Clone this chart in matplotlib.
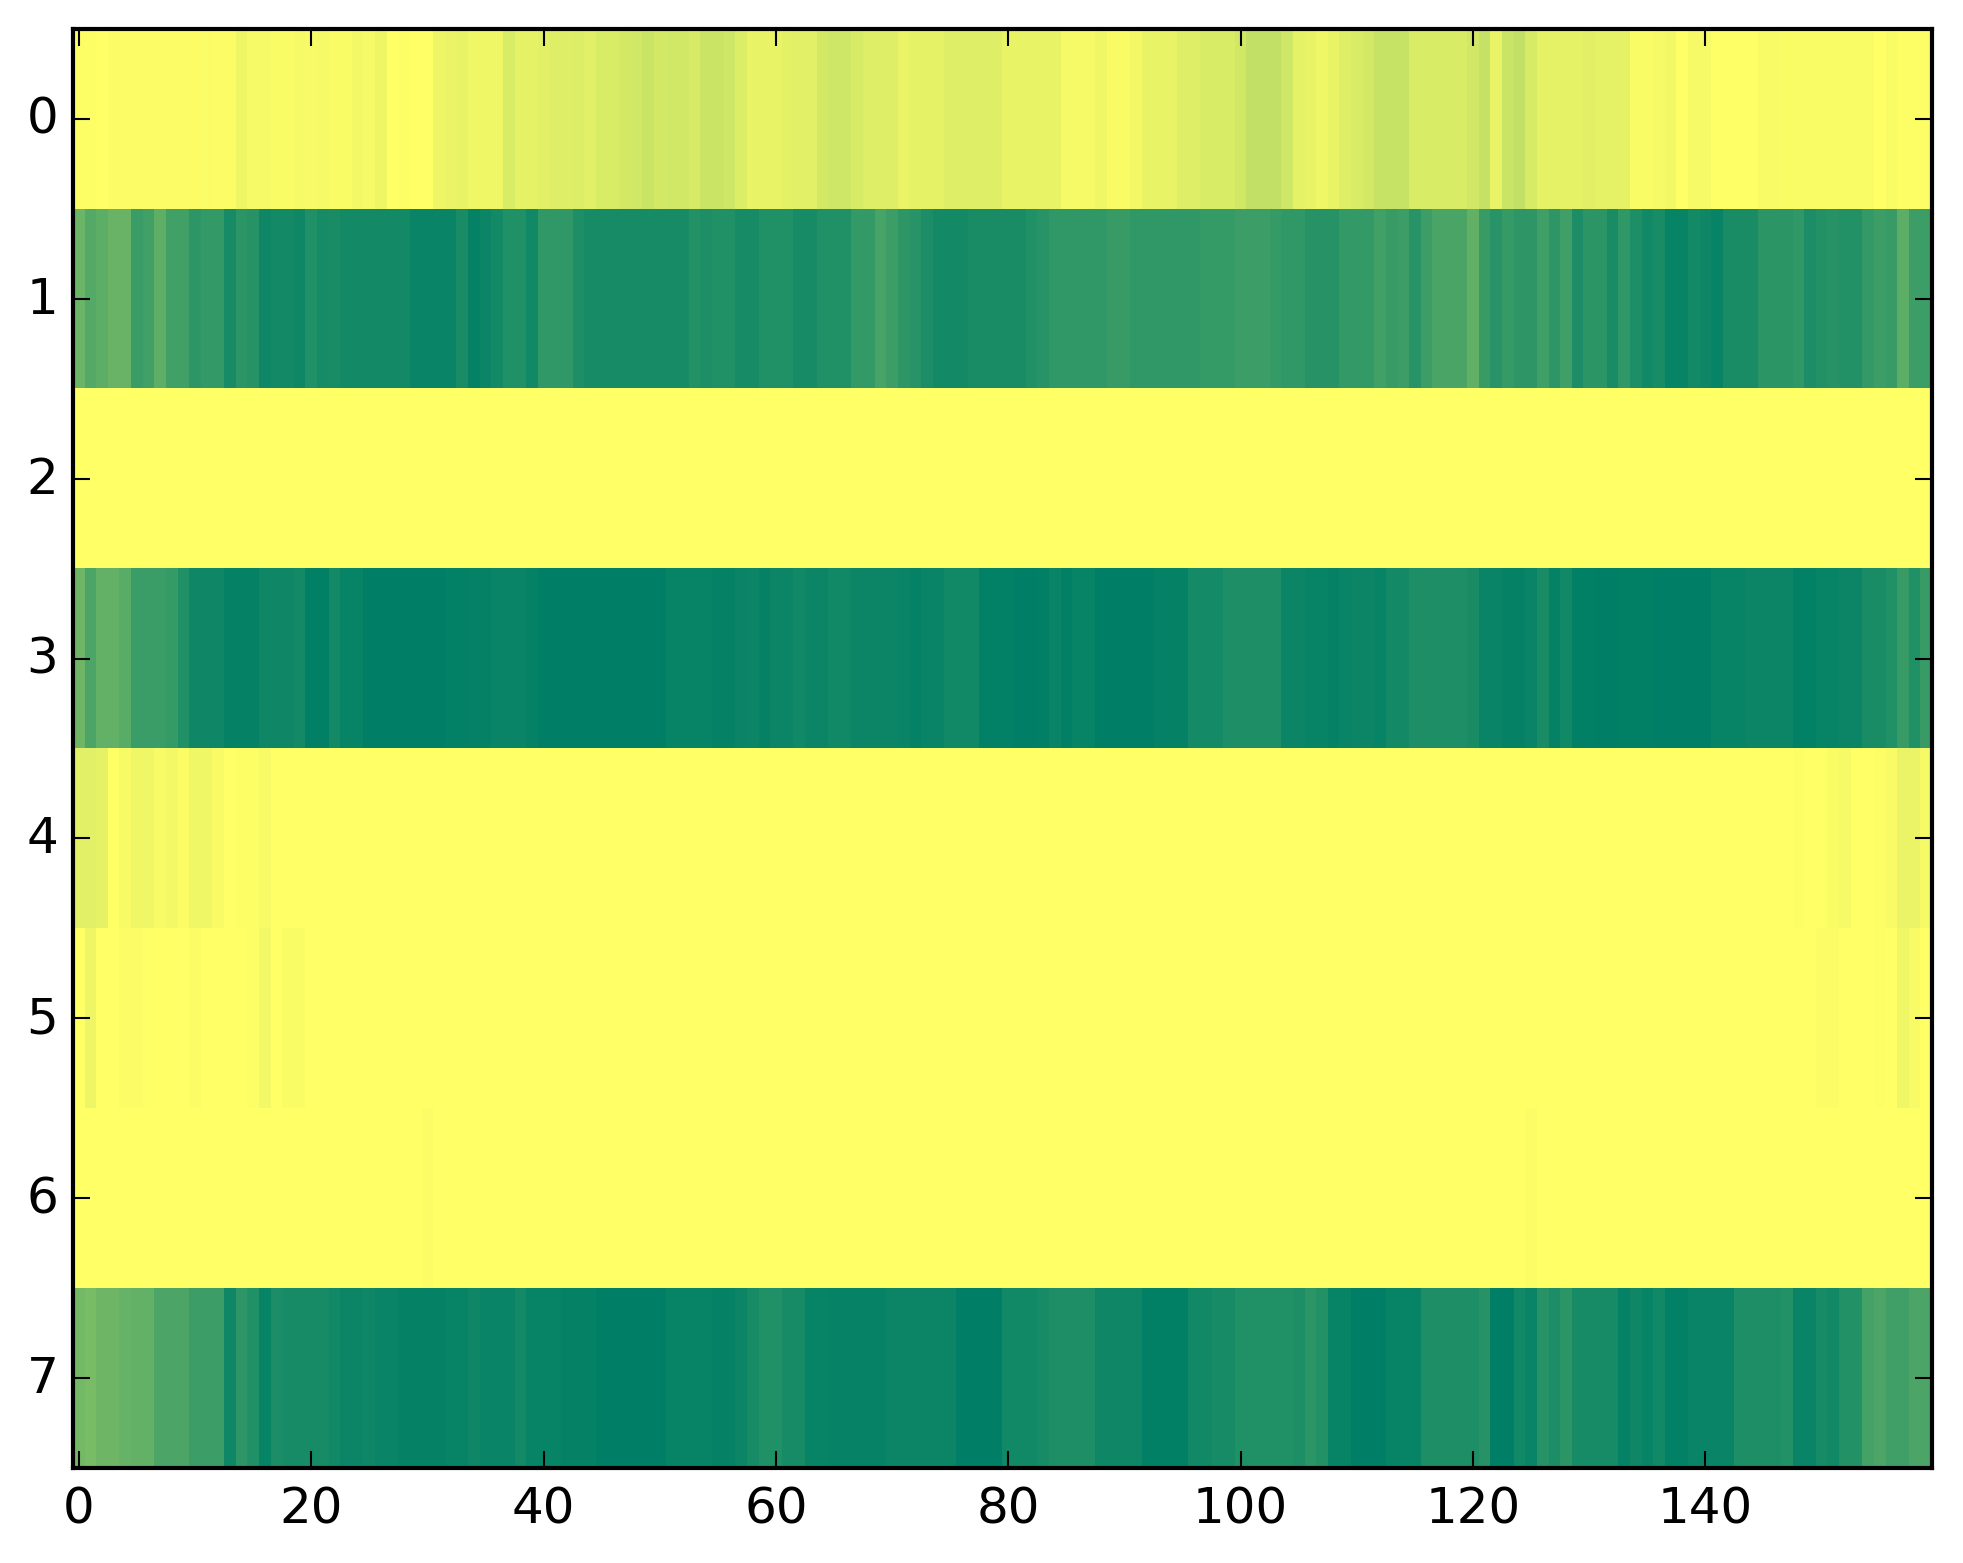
import matplotlib
matplotlib.use("Agg")
import matplotlib.pyplot as plt
import numpy as np

# values, one list per row of the heatmap (160 columns)
row0 = [.99, .99, 1.0, .985, .985, .985, .985, .985, .985, .985,
        .985, .975, .985, .985, .93, .96, .96, .98, .98, .96,
        .97, .96, .98, .98, .95, .96, .93, 1.0, .99, 1.0,
        1.0, .93, .92, .91, .94, .94, .94, .85, .90, .90,
        .88, .87, .87, .86, .88, .85, .85, .83, .82, .79,
        .83, .82, .82, .84, .79, .79, .81, .86, .91, .91,
        .91, .89, .88, .88, .83, .81, .81, .84, .87, .87,
        .87, .92, .90, .90, .90, .87, .87, .87, .87, .87,
        .91, .91, .91, .91, .91, .96, .96, .96, .94, .97,
        .98, .95, .91, .91, .91, .87, .87, .85, .85, .85,
        .82, .76, .76, .76, .81, .90, .91, .94, .91, .87,
        .85, .83, .78, .78, .78, .85, .85, .85, .85, .85,
        .82, .77, .91, .79, .76, .84, .90, .90, .90, .90,
        .88, .90, .90, .90, .98, .98, .96, .95, 1.0, .96,
        .96, .995, .995, .995, .995, .97, .97, .98, .98, .98,
        .98, .98, .98, .98, .98, 1.0, .98, .99, .99, .99]

row1 = [.42, .33, .36, .41, .41, .23, .26, .37, .26, .26,
        .18, .20, .20, .09, .17, .15, .06, .08, .08, .06,
        .13, .09, .10, .08, .08, .08, .08, .08, .08, .04,
        .04, .04, .04, .10, .02, .05, .08, .13, .13, .07,
        .19, .19, .19, .12, .09, .09, .09, .09, .09, .09,
        .09, .09, .09, .14, .12, .13, .13, .09, .09, .13,
        .13, .13, .09, .09, .13, .13, .13, .20, .20, .28,
        .24, .18, .16, .11, .08, .08, .08, .10, .10, .10,
        .10, .10, .13, .16, .19, .19, .19, .19, .19, .22,
        .22, .19, .19, .19, .19, .19, .19, .21, .21, .21,
        .24, .24, .24, .21, .19, .19, .15, .15, .15, .20,
        .20, .20, .26, .22, .24, .16, .24, .29, .29, .29,
        .38, .22, .16, .21, .18, .18, .25, .18, .25, .11,
        .17, .17, .10, .19, .12, .07, .10, .03, .03, .08,
        .06, .03, .10, .10, .10, .17, .17, .17, .19, .11,
        .14, .15, .14, .14, .20, .24, .22, .36, .24, .24]

row2 = [1.0] * 160

row3 = [.43, .30, .39, .39, .35, .23, .23, .23, .21, .13,
        .06, .06, .06, .02, .02, .02, .06, .06, .06, .08,
        .01, .01, .08, .03, .03, .0, .0, .0, .0, .0,
        .0, .0, .015, .015, .02, .02, .04, .04, .04, .02,
        .0, .0, .0, .0, .0, .0, .0, .0, .0, .0,
        .0, .03, .03, .03, .03, .02, .02, .04, .05, .02,
        .05, .05, .07, .05, .05, .07, .07, .05, .05, .05,
        .05, .04, .02, .04, .04, .07, .07, .07, .015, .015,
        .015, .0, .0, .01, .04, .01, .03, .03, .0, .0,
        .0, .0, .0, .02, .02, .02, .085, .085, .085, .12,
        .12, .12, .12, .12, .05, .05, .03, .03, .02, .04,
        .05, .05, .03, .08, .08, .12, .12, .12, .12, .12,
        .10, .04, .04, .02, .02, .04, .10, .02, .07, .005,
        .005, .0, .0, .01, .01, .01, .0, .0, .0, .0,
        .0, .03, .03, .03, .05, .05, .05, .05, .015, .015,
        .03, .03, .05, .05, .10, .10, .13, .22, .13, .22]

row4 = ([.88, .88, .90, 1.0, .97, .94, .94, .97, .95, .985,
         .94, .94, .97, 1.0, .99, .99, .97, 1.0, 1.0, 1.0]
        + [1.0] * 128
        + [.99, 1.0, 1.0, .98, .96, 1.0, 1.0, .99, .97, .92, .92, .96])

row5 = ([1.0, .93, 1.0, 1.0, .985, .985, .995, 1.0, 1.0, 1.0,
         .985, 1.0, 1.0, 1.0, 1.0, .99, .95, 1.0, .98, .98]
        + [1.0] * 130
        + [.985, .985, 1.0, 1.0, 1.0, .99, 1.0, .94, .97, 1.0])

row6 = [1.0] * 30 + [.985] + [1.0] * 94 + [.985] + [1.0] * 34

row7 = [.45, .48, .43, .43, .40, .39, .39, .30, .30, .30,
        .24, .24, .24, .06, .18, .13, .03, .11, .09, .09,
        .09, .09, .07, .05, .05, .06, .04, .04, .02, .02,
        .02, .02, .03, .03, .06, .04, .04, .04, .08, .03,
        .03, .03, .02, .02, .02, .0, .0, .0, .0, .0,
        .0, .03, .03, .03, .03, .02, .02, .05, .09, .13,
        .13, .09, .09, .03, .03, .025, .025, .025, .025, .025,
        .05, .05, .05, .05, .05, .05, .0, .0, .0, .0,
        .07, .07, .07, .09, .12, .12, .12, .12, .06, .06,
        .06, .06, .01, .01, .01, .01, .07, .07, .09, .09,
        .13, .13, .13, .13, .13, .12, .17, .14, .03, .03,
        .0, .0, .0, .03, .03, .03, .12, .12, .12, .12,
        .12, .15, .0, .0, .07, .04, .15, .11, .17, .09,
        .09, .09, .09, .02, .06, .03, .07, .015, .015, .04,
        .04, .04, .04, .12, .12, .12, .12, .14, .04, .04,
        .09, .07, .14, .14, .27, .30, .25, .25, .30, .30]

x_ticks = [0, 20, 40, 60, 80, 100, 120, 140]
y_ticks = [0, 1, 2, 3, 4, 5, 6, 7]

plt.style.use('classic')
plt.rcParams['font.family'] = ['DejaVu Sans']

data = np.array([row0, row1, row2, row3, row4, row5, row6, row7])

fig = plt.figure(figsize=(1963 / 300, 1564 / 300), facecolor='white')
ax = fig.add_axes([73 / 1963, 1 - 1469 / 1564, (1932 - 73) / 1963, (1469 - 30) / 1564])
ax.imshow(data, cmap='summer', vmin=0, vmax=1, aspect='auto', interpolation='nearest')
ax.set_xticks(x_ticks)
ax.set_yticks(y_ticks)
ax.tick_params(labelsize=12)
ax.tick_params(axis='y', pad=3.5)
ax.set_xlim(-0.5, 159.5)
ax.set_ylim(7.5, -0.5)

fig.savefig('out.png', dpi=300, facecolor='white')
